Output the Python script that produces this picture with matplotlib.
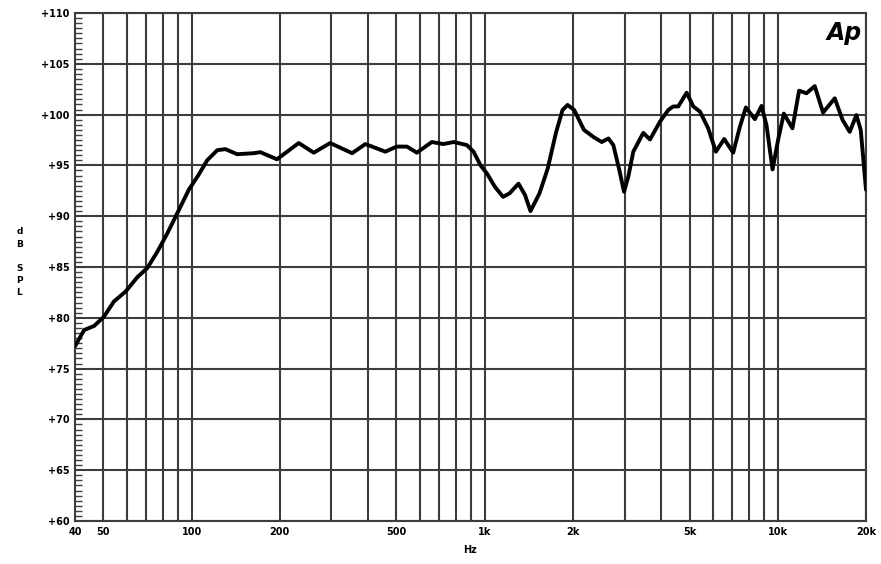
import matplotlib.pyplot as plt
from matplotlib.ticker import FixedLocator, MultipleLocator, NullFormatter

# Frequency response (Hz, dB SPL)
freq = [40, 43, 46.5, 50.2, 54.3, 59.6, 65.3, 70.6, 76.4, 82.6, 89.4, 97.8,
        105.8, 113, 122.4, 130.5, 143, 163, 171.6, 195.6, 232, 261, 297,
        353, 391.6, 458, 501, 543, 587, 660, 722, 784, 869, 916, 968, 1018,
        1083, 1155, 1216, 1304, 1372, 1433, 1538, 1641, 1750, 1843, 1918,
        2020, 2180, 2348, 2508, 2642, 2747, 2879, 2988, 3090, 3214, 3476,
        3664, 3962, 4229, 4397, 4575, 4888, 5148, 5425, 5788, 6149, 6564,
        7044, 7424, 7780, 8352, 8800, 9152, 9596, 10024, 10484, 11220,
        11820, 12528, 13368, 14272, 15644, 16616, 17596, 18540, 19184, 20000]
spl = [77.2, 78.8, 79.2, 80.1, 81.6, 82.6, 84.0, 84.9, 86.5, 88.3, 90.3, 92.6,
       94.1, 95.5, 96.5, 96.6, 96.1, 96.2, 96.3, 95.6, 97.2, 96.25, 97.2,
       96.2, 97.1, 96.35, 96.85, 96.85, 96.25, 97.3, 97.1, 97.3, 97.0, 96.35,
       95.0, 94.2, 92.9, 91.9, 92.25, 93.2, 92.1, 90.5, 92.25, 94.7, 98.2,
       100.45, 100.95, 100.45, 98.5, 97.8, 97.3, 97.65, 97.0, 94.55, 92.4,
       93.9, 96.35, 98.2, 97.55, 99.3, 100.45, 100.8, 100.8, 102.15, 100.8,
       100.3, 98.65, 96.35, 97.6, 96.25, 98.8, 100.7, 99.55, 100.85, 98.95,
       94.6, 97.5, 100.1, 98.65, 102.35, 102.1, 102.8, 100.2, 101.6, 99.5,
       98.3, 99.95, 98.5, 92.6]

x_grid = [50, 60, 70, 80, 90, 100, 200, 300, 400, 500, 600, 700, 800, 900,
          1000, 2000, 3000, 4000, 5000, 6000, 7000, 8000, 9000, 10000, 20000]
x_ticks = [40, 50, 100, 200, 500, 1000, 2000, 5000, 10000, 20000]
x_labels = ['40', '50', '100', '200', '500', '1k', '2k', '5k', '10k', '20k']
y_ticks = list(range(60, 111, 5))
y_labels = ['+%d' % v for v in y_ticks]

grid_col = '#3c3c3c'

fig = plt.figure(figsize=(8.81, 5.64), dpi=100)
ax = fig.add_axes([0.0851, 0.0762, 0.8979, 0.9008])

ax.set_xscale('log')
ax.set_xlim(40, 20000)
ax.set_ylim(60, 110)

# grid
for f in x_grid:
    ax.axvline(f, color=grid_col, lw=1.5, zorder=1)
for v in y_ticks:
    ax.axhline(v, color=grid_col, lw=1.5, zorder=1)

ax.plot(freq, spl, color='black', lw=2.8, solid_joinstyle='round',
        solid_capstyle='round', zorder=3)

ax.xaxis.set_major_locator(FixedLocator(x_ticks))
ax.xaxis.set_minor_locator(FixedLocator([]))
ax.xaxis.set_minor_formatter(NullFormatter())
ax.set_xticklabels(x_labels, fontsize=7, fontweight='bold')
ax.tick_params(axis='x', length=0, pad=4)

ax.set_yticks(y_ticks)
ax.set_yticklabels(y_labels, fontsize=7, fontweight='bold')
ax.yaxis.set_minor_locator(MultipleLocator(0.5))
ax.tick_params(axis='y', which='major', length=0, pad=4)
ax.tick_params(axis='y', which='minor', direction='in', length=5,
               width=1.0, color=grid_col)

for s in ax.spines.values():
    s.set_color(grid_col)
    s.set_linewidth(1.5)

ax.set_xlabel('Hz', fontsize=7, fontweight='bold', labelpad=6)
fig.text(0.022, 0.535, 'd\nB\n\nS\nP\nL', fontsize=6.5, fontweight='bold',
         ha='center', va='center', linespacing=1.45)

ax.text(0.995, 0.985, 'Ap', transform=ax.transAxes, ha='right', va='top',
        fontsize=17, fontweight='bold', style='italic', family='DejaVu Sans')

fig.savefig('out.png', dpi=100)
